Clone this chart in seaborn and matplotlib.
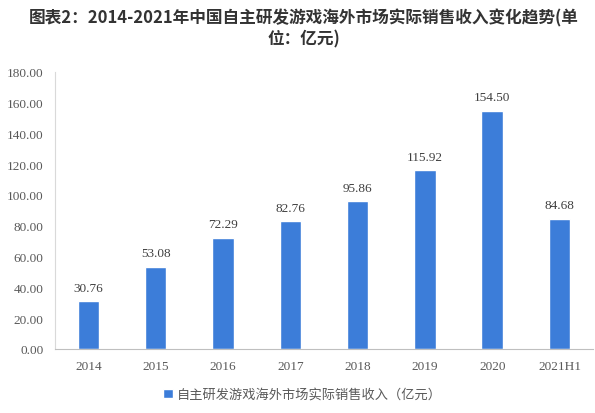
import matplotlib
matplotlib.use("Agg")
import matplotlib.pyplot as plt
import seaborn as sns
import pandas as pd

# revenue of self-developed games overseas (100 million yuan)
years = ["2014", "2015", "2016", "2017", "2018", "2019", "2020", "2021H1"]
revenue = [30.76, 53.08, 72.29, 82.76, 95.86, 115.92, 154.50, 84.68]
series_name = "自主研发游戏海外市场实际销售收入（亿元）"
title = "图表2：2014-2021年中国自主研发游戏海外市场实际销售收入变化趋势(单\n位：亿元)"

sns.set_style("white")
plt.rcParams["font.family"] = ["Noto Sans CJK SC", "DejaVu Sans"]

df = pd.DataFrame({"year": years, "revenue": revenue})
bar_color = "#3c7dd9"

fig = plt.figure(figsize=(5.95, 4.14), dpi=100)
ax = fig.add_axes([0.092, 0.155, 0.905, 0.669])

sns.barplot(data=df, x="year", y="revenue", color=bar_color, width=0.32,
            saturation=1, ax=ax, label=series_name)

ax.set_ylim(0, 180)
ax.set_xlim(-0.5, 7.5)
ax.set_yticks(range(0, 181, 20))
ax.set_yticklabels([f"{v:.2f}" for v in range(0, 181, 20)],
                   family="Liberation Serif", fontsize=9.5, color="#595959")
ax.set_xticklabels(years, family="Liberation Serif", fontsize=9.5, color="#595959")
ax.tick_params(axis="both", length=0, pad=8)
ax.set_xlabel("")
ax.set_ylabel("")

for s in ["top", "right"]:
    ax.spines[s].set_visible(False)
ax.spines["left"].set_color("#d9d9d9")
ax.spines["bottom"].set_color("#bfbfbf")
ax.spines["left"].set_linewidth(0.8)
ax.spines["bottom"].set_linewidth(0.8)

for i, v in enumerate(revenue):
    ax.text(i, v + 5, f"{v:.2f}", ha="center", va="bottom",
            family="Liberation Serif", fontsize=9.5, color="#404040")

leg = ax.legend(loc="center", bbox_to_anchor=(0.46, -0.165), frameon=False,
                handlelength=0.7, handleheight=0.7, handletextpad=0.3,
                prop={"family": ["Noto Sans CJK SC", "DejaVu Sans"], "size": 9.5})
for t in leg.get_texts():
    t.set_color("#595959")

fig.text(0.51, 0.978, title, ha="center", va="top", fontsize=12,
         fontweight="bold", color="#333333", linespacing=1.2,
         multialignment="center")

fig.savefig("out.png", dpi=100)
